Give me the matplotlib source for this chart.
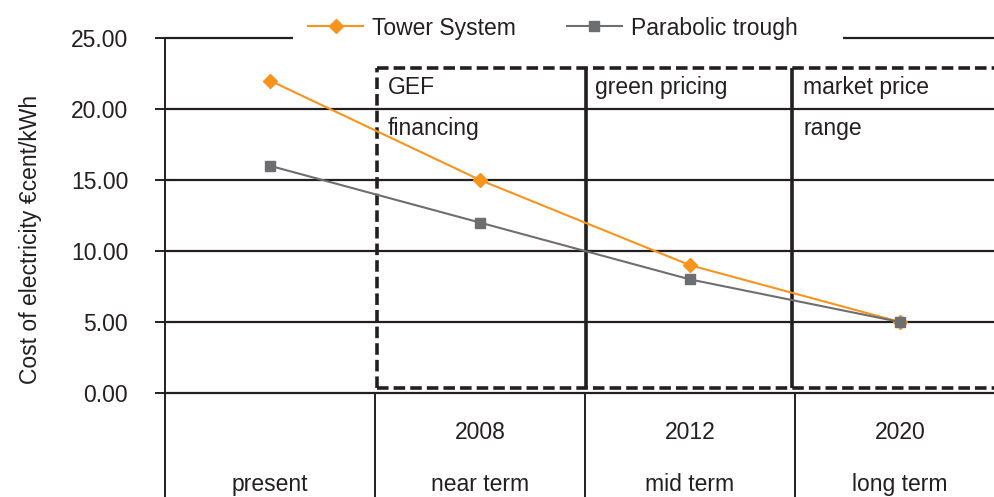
import matplotlib.pyplot as plt

plt.rcParams['font.family'] = ['Liberation Sans', 'DejaVu Sans']

# data
periods = ['present', 'near term', 'mid term', 'long term']
years = ['', '2008', '2012', '2020']
tower = [22.0, 15.0, 9.0, 5.0]
trough = [16.0, 12.0, 8.0, 5.0]
y_ticks = [0, 5, 10, 15, 20, 25]
box_labels = [('GEF', 'financing'), ('green pricing', ''), ('market price', 'range')]

orange = '#F7941D'
gray = '#6D6E71'
dark = '#231F20'
fs = 16.5

fig = plt.figure(figsize=(9.95, 4.97), dpi=100)
ax = fig.add_axes([165 / 995, 0, 840 / 995, 459 / 497])

ymin = -(497 - 393) / 14.2
ax.set_xlim(-0.5, 3.5)
ax.set_ylim(ymin, 25)

# gridlines (the top one is broken where the legend sits)
ax.hlines(y_ticks[:-1], -0.5, 3.5, color=dark, lw=1.6, zorder=1)
ax.hlines(y_ticks[-1], -0.5, 0.11, color=dark, lw=1.6, zorder=1, clip_on=False)
ax.hlines(y_ticks[-1], 2.73, 3.5, color=dark, lw=1.6, zorder=1, clip_on=False)

# table below the axis
for b in [0.5, 1.5, 2.5]:
    ax.vlines(b, ymin, 0, color=dark, lw=1.4)
x = list(range(len(periods)))
for i in x:
    ax.text(i, -2.75, years[i], ha='center', va='center', fontsize=fs, color=dark)
    ax.text(i, -6.45, periods[i], ha='center', va='center', fontsize=fs, color=dark)

# dashed policy boxes
top, bot = 22.9, 0.35
ax.hlines([top, bot], 0.51, 3.5, color=dark, lw=2.6, linestyles=(0, (3.2, 1.4)), zorder=2)
ax.vlines(0.51, bot, top, color=dark, lw=2.6, linestyles=(0, (3.2, 1.4)), zorder=2)
ax.vlines([1.505, 2.486], bot, top, color=dark, lw=2.6, zorder=2)
for i, (l1, l2) in enumerate(box_labels):
    ax.text(0.56 + i * 0.99, 21.5, l1, ha='left', va='center', fontsize=fs, color=dark)
    if l2:
        ax.text(0.56 + i * 0.99, 18.6, l2, ha='left', va='center', fontsize=fs, color=dark)

# series
ax.plot(x, tower, color=orange, lw=1.5, marker='D', ms=7.5, label='Tower System', zorder=3)
ax.plot(x, trough, color=gray, lw=1.5, marker='s', ms=7.5, label='Parabolic trough', zorder=4)

ax.set_yticks(y_ticks)
ax.set_yticklabels([f'{v:.2f}' for v in y_ticks])
ax.set_xticks([])
ax.tick_params(axis='y', direction='out', length=7.5, width=1.4, color=dark,
               labelsize=fs, labelcolor=dark, pad=19)
for s in ['top', 'right', 'bottom']:
    ax.spines[s].set_visible(False)
ax.spines['left'].set_color(dark)
ax.spines['left'].set_linewidth(1.4)
ax.spines['left'].set_bounds(ymin, 25)

ax.set_ylabel('Cost of electricity \u20accent/kWh', fontsize=fs, color=dark)
ax.yaxis.set_label_coords(-123 / 840, (497 - 239) / 459)

leg = fig.legend(loc='center', bbox_to_anchor=(553 / 995, 1 - 28 / 497), ncol=2,
                 fontsize=fs, frameon=False, handlelength=2.4, columnspacing=2.2,
                 handletextpad=0.4, borderpad=0.3, borderaxespad=0)
for t in leg.get_texts():
    t.set_color(dark)

fig.savefig('out.png', dpi=100)
